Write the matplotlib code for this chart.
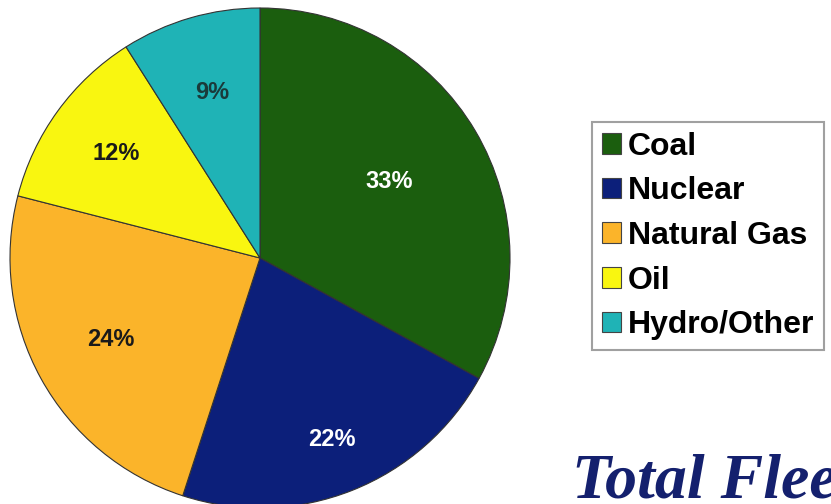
import numpy as np
import matplotlib
matplotlib.use("Agg")
import matplotlib.pyplot as plt
from matplotlib.patches import Patch

sources = ["Coal", "Nuclear", "Natural Gas", "Oil", "Hydro/Other"]
shares = [33, 22, 24, 12, 9]
colors = ["#1b5e0e", "#0c1f7a", "#fbb42a", "#f9f610", "#1fb3b6"]
label_colors = ["white", "white", "#1a1a1a", "#1a1a1a", "#1a3a3a"]
title = "Total Fleet"

# radial position of each percentage label (fraction of radius)
label_radius = [0.6, 0.78, 0.68, 0.71, 0.69]

W, H = 831, 504
fig = plt.figure(figsize=(W / 100, H / 100), dpi=100)
fig.patch.set_facecolor("white")

# pie centred at about (260, 258) px with radius 250 px
ax = fig.add_axes([10 / W, (H - 508) / H, 500 / W, 500 / H])
wedges, texts, autotexts = ax.pie(
    shares, colors=colors, startangle=90, counterclock=False,
    autopct="%d%%", pctdistance=0.6,
    wedgeprops=dict(edgecolor="#333333", linewidth=0.8),
    textprops=dict(fontsize=17, fontweight="bold", family="Liberation Sans"),
)
for w, t, c, r in zip(wedges, autotexts, label_colors, label_radius):
    mid = np.deg2rad((w.theta1 + w.theta2) / 2)
    t.set_position((r * np.cos(mid), r * np.sin(mid)))
    t.set_color(c)
ax.set_xlim(-1, 1)
ax.set_ylim(-1, 1)
ax.set_aspect("equal")
ax.axis("off")

handles = [Patch(facecolor=c, edgecolor="#444444", linewidth=0.8) for c in colors]
leg = fig.legend(
    handles, sources, loc="upper left",
    bbox_to_anchor=(592 / W, 1 - 122 / H),
    prop=dict(family="Liberation Sans", weight="bold", size=23),
    handlelength=0.62, handleheight=0.62, handletextpad=0.2,
    labelspacing=0.46, borderpad=0.3, borderaxespad=0,
    frameon=True, fancybox=False,
)
leg.get_frame().set_edgecolor("#888888")
leg.get_frame().set_linewidth(1.5)

fig.text(572 / W, 1 - 497 / H, title, fontsize=46, fontweight="bold",
         fontstyle="italic", family="Liberation Serif", color="#14206e",
         ha="left", va="baseline")

fig.savefig("out.png", dpi=100)
